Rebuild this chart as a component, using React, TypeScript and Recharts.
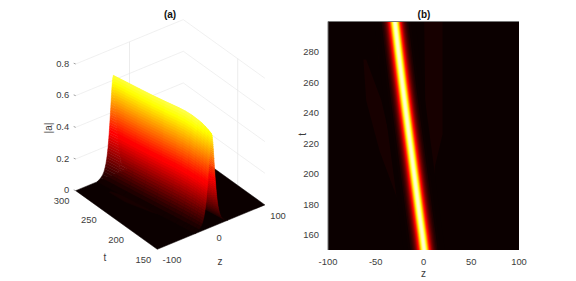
import { Area, ComposedChart, Label, ReferenceLine, Scatter, ScatterChart, XAxis, YAxis } from "recharts";

// crest path
const rowT = [150, 155, 160, 165, 170, 180, 190, 200, 220, 240, 260, 280, 300];
const ridgeZ = [0.7, -0.3, -1.3, -2.4, -3.5, -5.6, -7.7, -9.8, -14, -18.2, -22.3, -26.2, -30];
const crest = [0.59, 0.603, 0.615, 0.625, 0.632, 0.642, 0.646, 0.645, 0.64, 0.636, 0.634, 0.632, 0.63];

// fraction of the crest height and how far from the ridge (in z) it is reached
const levels = [
  1, 0.975, 0.95, 0.925, 0.9, 0.875, 0.85, 0.825, 0.8, 0.775, 0.75, 0.725, 0.7, 0.675, 0.65, 0.625, 0.6, 0.575, 0.55,
  0.525, 0.5, 0.475, 0.45, 0.425, 0.4, 0.375, 0.35, 0.325, 0.3, 0.275, 0.25, 0.225, 0.2, 0.175, 0.15, 0.125, 0.1,
  0.075, 0.05, 0.025, 0,
];
const levelOffset = [
  0, 1.2, 1.7, 2.1, 2.5, 2.8, 3.1, 3.4, 3.7, 3.9, 4.2, 4.5, 4.7, 5.0, 5.3, 5.5, 5.8, 6.1, 6.4, 6.7, 7.0, 7.3, 7.6, 8.0,
  8.3, 8.7, 9.1, 9.5, 9.9, 10.4, 10.9, 11.5, 12.1, 12.9, 13.7, 14.7, 15.9, 17.4, 19.5, 23.2, 30,
];

// very faint side lobes
const ghostA = { t: [275, 248, 215, 183, 165], lo: [-63, -60, -46, -27, -14], hi: [-60, -44, -32, -14, -9] };
const ghostB = { t: [300, 275, 248], lo: [-51, -47, -37], hi: [-35, -33, -30] };
const ghostC = { t: [300, 262, 226, 205, 180], lo: [0.7, 1.5, 2, 5, 7], hi: [20, 20, 20, 12, 11] };
const ghosts = [ghostA, ghostB, ghostC];

const aTicks = [0, 0.2, 0.4, 0.6, 0.8];
const tTicks3d = [150, 200, 250, 300];
const zTicks3d = [-100, 0, 100];
const tTicks = [160, 180, 200, 220, 240, 260, 280];
const zTicks = [-100, -50, 0, 50, 100];

const font = "'Liberation Sans', Arial, sans-serif";
const textColor = "#3c3c3c";
const hotLow = "#0b0000";
const ghostFill = "#170000";
const heatWidth = 0.72; // the flat view reads narrower than the wall's foot

function hot(f: number) {
  const c = Math.max(0, Math.min(1, f));
  const r = Math.min(1, (c + 0.016) / 0.375);
  const g = Math.max(0, Math.min(1, (c - 0.375) / 0.375));
  const b = Math.max(0, Math.min(1, (c - 0.75) / 0.25));
  return `rgb(${Math.round(r * 255)},${Math.round(g * 255)},${Math.round(b * 255)})`;
}

// view of the 3d axes box
function project(z: number, t: number, a: number): [number, number] {
  const dz = z + 100;
  const dt = t - 150;
  return [157.3 + dz * 0.538 - dt * 0.544, 249.3 - dz * 0.222 - dt * 0.391 - a * 158.3];
}

function mark(corners: [number, number][], style: Record<string, unknown>) {
  const [x, y] = corners[0];
  return { x, y, rel: corners.map(([px, py]) => [px - x, py - y]), ...style };
}

function label(p: [number, number], text: string, dx: number, dy: number, anchor: string) {
  return { x: p[0] + dx, y: p[1] + dy, text, anchor };
}

const gridMarks = [
  ...aTicks.slice(1).map((a) => mark([project(-100, 300, a), project(100, 300, a), project(100, 150, a)], { stroke: "#e9e9e9" })),
  mark([project(0, 300, 0), project(0, 300, 0.8)], { stroke: "#e4e4e4" }),
  mark([project(100, 200, 0), project(100, 200, 0.8)], { stroke: "#e4e4e4" }),
  ...aTicks.map((a) => {
    const [x, y] = project(-100, 300, a);
    return mark([[x, y], [x - 2, y - 0.8]], { stroke: "#777777" });
  }),
];

const floorMarks = [
  mark([project(-100, 150, 0), project(100, 150, 0), project(100, 300, 0), project(-100, 300, 0)], { fill: hotLow }),
  ...ghosts.map((g) =>
    mark(
      [...g.t.map((t, i) => project(g.lo[i], t, 0)), ...g.t.map((t, i) => project(g.hi[i], t, 0)).reverse()],
      { fill: ghostFill },
    ),
  ),
];

function flank(side: number, order: number[]) {
  const out: ReturnType<typeof mark>[] = [];
  for (const i of order) {
    const meanLevel = (levels[i] + levels[i + 1]) / 2;
    for (let j = rowT.length - 2; j >= 0; j--) {
      const fill = hot((((crest[j] + crest[j + 1]) / 2) * meanLevel) / 0.78);
      out.push(
        mark(
          [
            project(ridgeZ[j] + side * levelOffset[i], rowT[j], crest[j] * levels[i]),
            project(ridgeZ[j] + side * levelOffset[i + 1], rowT[j], crest[j] * levels[i + 1]),
            project(ridgeZ[j + 1] + side * levelOffset[i + 1], rowT[j + 1], crest[j + 1] * levels[i + 1]),
            project(ridgeZ[j + 1] + side * levelOffset[i], rowT[j + 1], crest[j + 1] * levels[i]),
          ],
          { fill },
        ),
      );
    }
  }
  return out;
}

const bandIdx = levels.slice(0, -1).map((_, i) => i);
const surfaceMarks = [...flank(1, [...bandIdx].reverse()), ...flank(-1, bandIdx)];

const labels3d = [
  ...aTicks.map((a) => label(project(-100, 300, a), String(a), -6.5, -0.8, "end")),
  ...tTicks3d.map((t) => label(project(-100, t, 0), String(t), -14, 9.7, "middle")),
  ...zTicks3d.map((z) => label(project(z, 150, 0), String(z), 5.3, 10.5, "start")),
];

function Poly(props: any) {
  const { cx, cy, payload } = props;
  const pts = payload.rel.map(([dx, dy]: number[]) => `${cx + dx},${cy + dy}`).join(" ");
  if (payload.stroke) return <polyline points={pts} fill="none" stroke={payload.stroke} strokeWidth={0.7} />;
  return <polygon points={pts} fill={payload.fill} stroke={payload.fill} strokeWidth={0.5} />;
}

function TickText(props: any) {
  const { cx, cy, payload } = props;
  return (
    <text x={cx} y={cy} textAnchor={payload.anchor} dominantBaseline="central" fontFamily={font} fontSize={9.4} fill={textColor}>
      {payload.text}
    </text>
  );
}

function Surface3d() {
  return (
    <ScatterChart width={576} height={281} margin={{ top: 0, right: 0, bottom: 0, left: 0 }}>
      <XAxis type="number" dataKey="x" domain={[0, 576]} hide />
      <YAxis type="number" dataKey="y" domain={[0, 281]} reversed hide />
      <Scatter data={gridMarks} shape={Poly} isAnimationActive={false} />
      <Scatter data={floorMarks} shape={Poly} isAnimationActive={false} />
      <Scatter data={surfaceMarks} shape={Poly} isAnimationActive={false} />
      <Scatter data={labels3d} shape={TickText} isAnimationActive={false} />
    </ScatterChart>
  );
}

const backgroundRows = [
  { t: 150, band: [-100, 100] },
  { t: 300, band: [-100, 100] },
];
const ghostRows = ghosts.map((g) => g.t.map((t, i) => ({ t, band: [g.lo[i], g.hi[i]] })));
// outermost level first so that each one paints over the previous
const heatLevels = bandIdx.map((i) => i + 1).reverse();
const heatRows = heatLevels.map((i) =>
  rowT.map((t, j) => ({
    t,
    band: [ridgeZ[j] - levelOffset[i] * heatWidth, ridgeZ[j] + levelOffset[i] * heatWidth],
  })),
);

function Heatmap() {
  return (
    <ComposedChart
      layout="vertical"
      width={576}
      height={281}
      margin={{ top: 21.5, right: 57, bottom: 6, left: 298 }}
    >
      <XAxis
        type="number"
        domain={[-100, 100]}
        ticks={zTicks}
        axisLine={false}
        tickLine={false}
        tickMargin={2}
        height={25}
        tick={{ fontSize: 9.4, fontFamily: font, fill: textColor }}
      >
        <Label value="z" position="insideBottom" offset={-2} fontSize={10} fontFamily={font} fill={textColor} />
      </XAxis>
      <YAxis
        type="number"
        dataKey="t"
        domain={[150, 300]}
        reversed
        ticks={tTicks}
        axisLine={false}
        tickLine={false}
        tickMargin={3}
        width={30}
        tick={{ fontSize: 9.4, fontFamily: font, fill: textColor }}
      >
        <Label value="t" position="insideLeft" angle={-90} offset={4} fontSize={10} fontFamily={font} fill={textColor} />
      </YAxis>
      <Area data={backgroundRows} dataKey="band" fill={hotLow} fillOpacity={1} stroke="none" dot={false} activeDot={false} isAnimationActive={false} />
      {ghostRows.map((rows, i) => (
        <Area key={`g${i}`} data={rows} dataKey="band" fill={ghostFill} fillOpacity={1} stroke="none" dot={false} activeDot={false} isAnimationActive={false} />
      ))}
      {heatRows.map((rows, k) => (
        <Area
          key={k}
          data={rows}
          dataKey="band"
          fill={hot(levels[heatLevels[k]] - 0.02)}
          fillOpacity={1}
          stroke="none"
          dot={false}
          activeDot={false}
          isAnimationActive={false}
        />
      ))}
      <ReferenceLine y={300} stroke="#777777" strokeWidth={1} />
      <ReferenceLine x={-100} stroke="#777777" strokeWidth={1} />
    </ComposedChart>
  );
}

const titleStyle = {
  position: "absolute" as const,
  fontFamily: font,
  fontSize: 10,
  fontWeight: 700,
  color: "#111111",
  transform: "translate(-50%, -50%)",
  lineHeight: 1,
};

const axisNameStyle = {
  position: "absolute" as const,
  fontFamily: font,
  fontSize: 10,
  color: textColor,
  lineHeight: 1,
};

export default function App() {
  return (
    <div style={{ position: "absolute", left: 0, top: 0, width: 576, height: 281, background: "#ffffff", overflow: "hidden" }}>
      <div style={{ position: "absolute", left: 0, top: 0 }}>
        <Surface3d />
      </div>
      <div style={{ position: "absolute", left: 0, top: 0 }}>
        <Heatmap />
      </div>
      <div style={{ ...titleStyle, left: 170, top: 14.5 }}>(a)</div>
      <div style={{ ...titleStyle, left: 424, top: 14.5 }}>(b)</div>
      <div style={{ ...axisNameStyle, left: 49, top: 128, transform: "translate(-50%, -50%) rotate(-90deg)" }}>|a|</div>
      <div style={{ ...axisNameStyle, left: 105, top: 257.5, transform: "translate(-50%, -50%)" }}>t</div>
      <div style={{ ...axisNameStyle, left: 220, top: 261.5, transform: "translate(-50%, -50%)" }}>z</div>
    </div>
  );
}
